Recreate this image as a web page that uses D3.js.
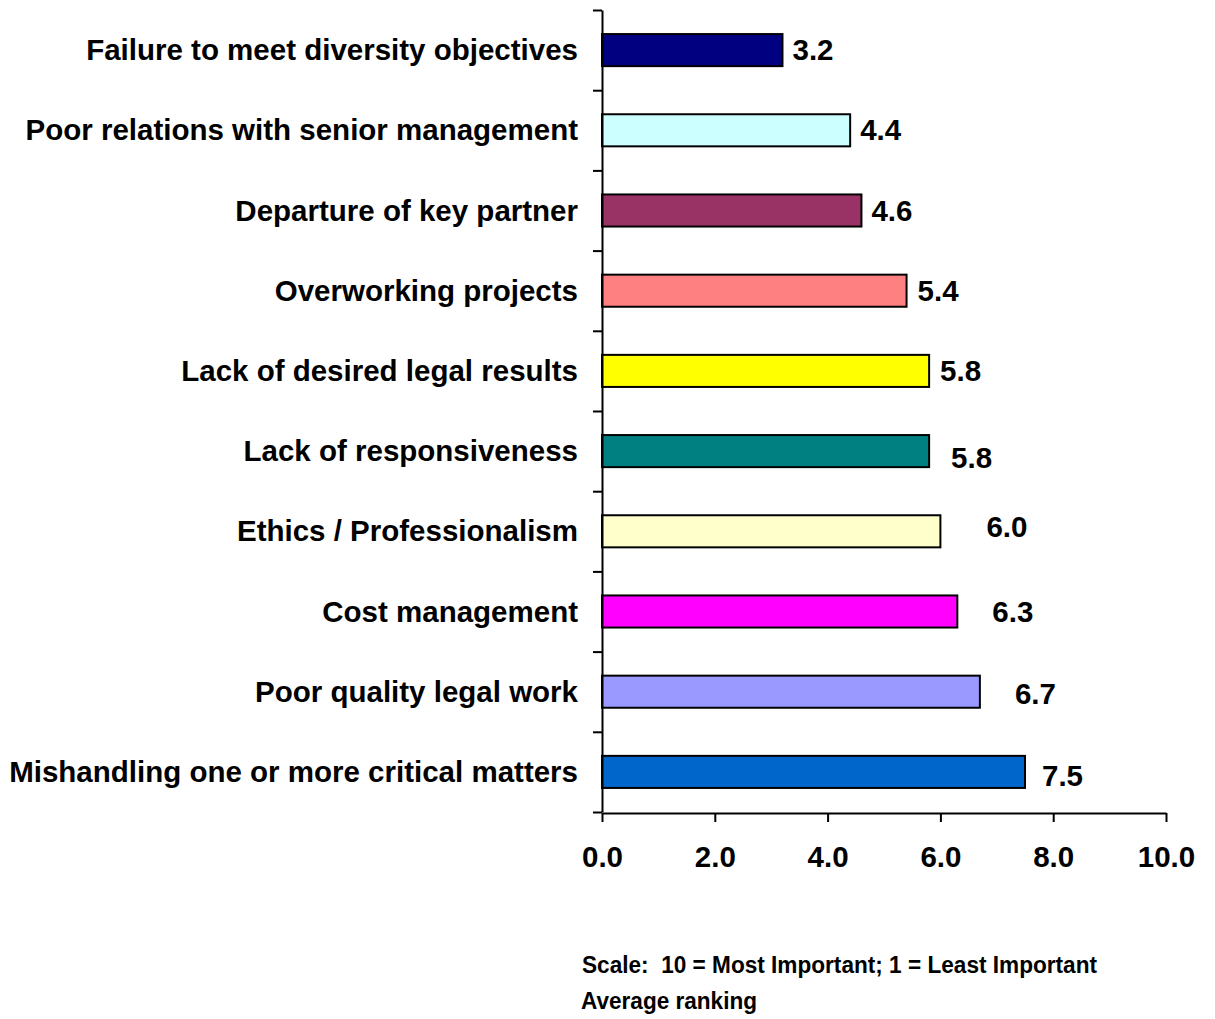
<!DOCTYPE html>
<html>
<head>
<meta charset="utf-8">
<script src="https://cdn.jsdelivr.net/npm/d3@7"></script>
<style>
  html, body { margin: 0; padding: 0; background: #fff; }
  svg { display: block; }
  text { font-family: "Liberation Sans", Arial, sans-serif; font-weight: bold; fill: #000; }
  .note { white-space: pre; }
</style>
</head>
<body>
<svg id="chart" width="1215" height="1019"></svg>
<script>
// Factors, top to bottom
const categories = [
  "Failure to meet diversity objectives",
  "Poor relations with senior management",
  "Departure of key partner",
  "Overworking projects",
  "Lack of desired legal results",
  "Lack of responsiveness",
  "Ethics / Professionalism",
  "Cost management",
  "Poor quality legal work",
  "Mishandling one or more critical matters"
];
// Average ranking per factor
const values = [3.2, 4.4, 4.6, 5.4, 5.8, 5.8, 6.0, 6.3, 6.7, 7.5];
const barColors = ["#000080", "#CCFFFF", "#993366", "#FF8080", "#FFFF00",
                   "#008080", "#FFFFCC", "#FF00FF", "#9999FF", "#0066CC"];
const xTicks = [0, 2, 4, 6, 8, 10];
const noteLines = ["Scale:  10 = Most Important; 1 = Least Important", "Average ranking"];

// Hand-placed value labels: horizontal gap after the bar end, vertical shift
const labelGap = [10, 10, 10, 11, 11, 22, 46, 35, 35, 17];
const labelShift = [0, 0, 0, 0, 0, 7, -4, 0, 2, 4];

const svg = d3.select("#chart");
const plotLeft = 602, plotRight = 1166, plotTop = 10, plotBottom = 812;
const fontSize = 29.5;

const x = d3.scaleLinear().domain([0, 10]).range([plotLeft, plotRight]);
const y = d3.scaleBand().domain(categories).range([plotTop, plotBottom])
  .paddingInner(0.6).paddingOuter(0.3);

// Bars
svg.append("g").selectAll("rect")
  .data(categories)
  .join("rect")
  .attr("x", x(0))
  .attr("y", d => y(d))
  .attr("width", (d, i) => x(values[i]) - x(0))
  .attr("height", y.bandwidth())
  .attr("fill", (d, i) => barColors[i])
  .attr("stroke", "#000")
  .attr("stroke-width", 2);

// Category axis: ticks sit on the band boundaries
const yEdges = d3.scaleLinear().domain([0, categories.length]).range([plotTop, plotBottom]);
const yAxis = svg.append("g")
  .attr("transform", `translate(${plotLeft},0)`)
  .call(d3.axisLeft(yEdges).tickValues(d3.range(0, categories.length + 1))
    .tickFormat("").tickSize(9).tickSizeOuter(0));
yAxis.select(".domain").attr("stroke-width", 2);
yAxis.selectAll(".tick line").attr("stroke-width", 2);

// Category labels
svg.append("g").selectAll("text")
  .data(categories)
  .join("text")
  .attr("x", 578)
  .attr("y", d => y(d) + y.bandwidth() / 2 + 10)
  .attr("text-anchor", "end")
  .attr("font-size", fontSize)
  .text(d => d);

// Value axis
const xAxis = svg.append("g")
  .attr("transform", `translate(0,${plotBottom + 1})`)
  .call(d3.axisBottom(x).tickValues(xTicks).tickFormat(d3.format(".1f"))
    .tickSize(9).tickSizeOuter(0).tickPadding(24));
xAxis.select(".domain").attr("stroke-width", 2);
xAxis.selectAll(".tick line").attr("stroke-width", 2);
xAxis.selectAll(".tick text")
  .attr("font-size", fontSize)
  .attr("font-family", "'Liberation Sans', Arial, sans-serif")
  .attr("font-weight", "bold")
  .attr("fill", "#000");

// Value labels
svg.append("g").selectAll("text")
  .data(categories)
  .join("text")
  .attr("x", (d, i) => x(values[i]) + labelGap[i])
  .attr("y", (d, i) => y(d) + y.bandwidth() / 2 + 10 + labelShift[i])
  .attr("font-size", fontSize)
  .text((d, i) => d3.format(".1f")(values[i]));

// Notes under the axis, squeezed to a condensed width
const noteWidths = [515, 176];
const noteX = [582, 581];
const noteY = [973, 1009];
svg.append("g").selectAll("text")
  .data(noteLines)
  .join("text")
  .attr("class", "note")
  .attr("x", (d, i) => noteX[i])
  .attr("y", (d, i) => noteY[i])
  .attr("font-size", 23)
  .attr("textLength", (d, i) => noteWidths[i])
  .attr("lengthAdjust", "spacingAndGlyphs")
  .text(d => d);
</script>
</body>
</html>
